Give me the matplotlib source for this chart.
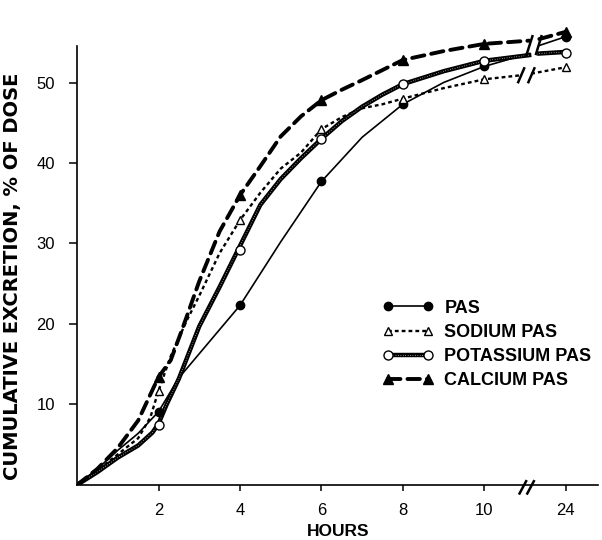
import numpy as np
import matplotlib.pyplot as plt
from matplotlib.legend_handler import HandlerTuple

# the x axis is broken after 10 h; axis position 12 stands for the 24 h reading
tick_pos = [2, 4, 6, 8, 10, 12]
tick_labels = ["2", "4", "6", "8", "10", "24"]

# measured points (markers)
mark_x = [2, 4, 6, 8, 10, 12]
pas_mark = [9.1, 22.3, 37.7, 47.3, 52.0, 55.7]
sodium_mark = [11.7, 32.9, 44.2, 48.0, 50.4, 51.9]
potassium_mark = [7.4, 29.2, 43.0, 49.8, 52.7, 53.7]
calcium_mark = [13.4, 36.0, 47.8, 52.8, 54.8, 56.3]

# hand-drawn curves (nan = gap at the axis break)
pas_x = [0, 0.5, 1, 1.5, 2, 2.5, 4, 5, 6, 7, 8, 9, 10, 11.1, np.nan, 11.35, 12]
pas_y = [0, 2.0, 4.3, 6.4, 9.1, 13.3, 22.3, 30.2, 37.7, 43.2, 47.3, 50.0, 52.0, 53.6, np.nan, 54.6, 55.7]

sodium_x = [0, 0.5, 1, 1.5, 1.8, 2, 2.3, 2.7, 3, 3.5, 4, 4.5, 5, 5.5, 6, 6.5, 7, 7.5, 8, 9, 10, 10.9, np.nan, 11.15, 12]
sodium_y = [0, 1.8, 3.8, 5.8, 8.4, 11.7, 16.0, 20.5, 23.5, 28.8, 32.9, 36.3, 39.3, 41.3, 44.2, 45.7, 46.8, 47.3, 48.0, 49.3, 50.4, 50.9, np.nan, 51.1, 51.9]

potassium_x = [0, 0.5, 1, 1.5, 1.85, 2, 2.2, 2.5, 3, 3.5, 4, 4.5, 5, 5.5, 6, 6.5, 7, 7.5, 8, 9, 10, 11.1, np.nan, 11.35, 12]
potassium_y = [0, 1.6, 3.4, 4.9, 6.5, 7.6, 10.0, 13.2, 19.7, 24.6, 29.7, 34.8, 38.0, 40.6, 43.0, 45.2, 47.0, 48.5, 49.8, 51.4, 52.7, 53.4, np.nan, 53.6, 53.8]

calcium_x = [0, 0.5, 1, 1.5, 2, 2.3, 2.6, 3, 3.5, 4, 4.5, 5, 5.5, 6, 6.5, 7, 8, 9, 10, 11.1, np.nan, 11.35, 12]
calcium_y = [0, 2.0, 4.6, 8.0, 13.4, 15.5, 19.6, 25.3, 31.5, 36.0, 39.6, 43.3, 45.8, 47.8, 49.1, 50.3, 52.8, 53.9, 54.8, 55.2, np.nan, 55.4, 56.3]

labels = ["PAS", "SODIUM PAS", "POTASSIUM PAS", "CALCIUM PAS"]

plt.rcParams["font.family"] = ["Liberation Sans", "DejaVu Sans"]

fig = plt.figure(figsize=(6.02, 5.4), dpi=100)
ax = fig.add_axes([0.128, 0.102, 0.866, 0.857])

# PAS: thin solid line, filled circles
l_pas, = ax.plot(pas_x, pas_y, color="black", lw=1.2)
m_pas, = ax.plot(mark_x, pas_mark, ls="none", marker="o", ms=6, color="black", zorder=5)

# sodium: fine dotted line, open triangles
l_na, = ax.plot(sodium_x, sodium_y, color="black", lw=1.7, dashes=(1.6, 1.3))
m_na, = ax.plot(mark_x, sodium_mark, ls="none", marker="^", ms=6, mfc="white",
                mec="black", mew=1.0, zorder=5)

# potassium: thick hatched line, open circles
l_k, = ax.plot(potassium_x, potassium_y, color="black", lw=3.2)
l_k2, = ax.plot(potassium_x, potassium_y, color="white", lw=0.6, dashes=(0.7, 2.2))
m_k, = ax.plot(mark_x, potassium_mark, ls="none", marker="o", ms=6.5, mfc="white",
               mec="black", mew=1.0, zorder=5)

# calcium: long heavy dashes, filled triangles
l_ca, = ax.plot(calcium_x, calcium_y, color="black", lw=2.8, dashes=(3.2, 1.8),
                dash_capstyle="round")
m_ca, = ax.plot(mark_x, calcium_mark, ls="none", marker="^", ms=6.5, color="black", zorder=5)

# break marks across the curves and the x axis
slash_kw = dict(color="black", lw=1.8, clip_on=False, solid_capstyle="butt")
for x0, x1, y0, y1 in [(11.02, 11.19, 53.2, 55.9), (11.26, 11.41, 53.4, 55.9),
                       (10.82, 10.99, 49.9, 51.9), (11.07, 11.24, 49.9, 51.9),
                       (10.85, 11.04, -1.2, 0.6), (11.04, 11.23, -1.2, 0.6)]:
    ax.plot([x0, x1], [y0, y1], **slash_kw)

ax.set_xlim(0, 12.8)
ax.set_ylim(0, 57.5)
ax.set_xticks(tick_pos)
ax.set_xticklabels(tick_labels)
ax.set_yticks([10, 20, 30, 40, 50])
ax.tick_params(axis="y", direction="out", length=6, width=1.1, labelsize=12, pad=10)
ax.tick_params(axis="x", direction="out", length=4, width=1.1, labelsize=12, pad=9)

for side in ["top", "right"]:
    ax.spines[side].set_visible(False)
ax.spines["left"].set_bounds(0, 54.5)
ax.spines["left"].set_linewidth(1.2)
ax.spines["bottom"].set_linewidth(1.2)

ax.set_xlabel("HOURS", fontsize=12.5, fontweight="bold", labelpad=4)
ax.set_ylabel("CUMULATIVE EXCRETION, % OF DOSE", fontsize=14, fontweight="bold",
              family="DejaVu Sans")
ax.yaxis.set_label_coords(-0.105, 0.45)

handles = [(l_pas, m_pas), (l_na, m_na), (l_k, l_k2, m_k), (l_ca, m_ca)]
leg = ax.legend(handles, labels, handler_map={tuple: HandlerTuple(ndivide=1)},
                loc="upper left", bbox_to_anchor=(0.636, 0.445),
                bbox_transform=fig.transFigure, frameon=False, numpoints=2,
                handlelength=2.8, handletextpad=0.6, labelspacing=0.4,
                borderpad=0, borderaxespad=0,
                prop={"weight": "bold", "size": 13})

fig.savefig("out.png", dpi=100)
